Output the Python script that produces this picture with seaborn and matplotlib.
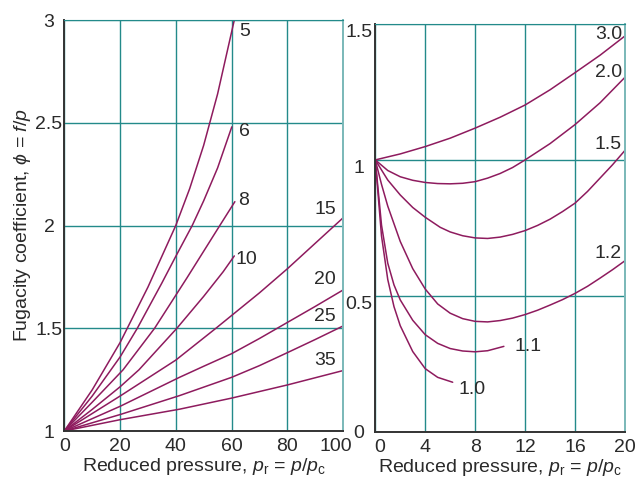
import matplotlib
matplotlib.use('Agg')
import matplotlib.pyplot as plt
import matplotlib.transforms as mtransforms
import seaborn as sns

# ---- left panel: reduced temperatures 5 ... 35, p_r 0-100 ----
pr_5 = [0, 10, 20, 30, 40, 45, 50, 55, 61]
phi_5 = [1.0, 1.2, 1.43, 1.70, 2.0, 2.18, 2.39, 2.64, 3.0]
pr_6 = [0, 10, 20, 26.2, 35, 40, 45.9, 50, 55, 60.1]
phi_6 = [1.0, 1.17, 1.36, 1.5, 1.72, 1.85, 2.0, 2.12, 2.28, 2.48]
pr_8 = [0, 10, 21.1, 32.4, 44, 55.8, 61.2]
phi_8 = [1.0, 1.14, 1.298, 1.5, 1.745, 2.0, 2.116]
pr_10 = [0, 10, 20, 26.8, 40.4, 50, 57, 61]
phi_10 = [1.0, 1.105, 1.215, 1.298, 1.5, 1.655, 1.775, 1.852]
pr_15 = [0, 20, 40, 54.4, 70, 80, 100]
phi_15 = [1.0, 1.17, 1.345, 1.5, 1.672, 1.789, 2.037]
pr_20 = [0, 20, 41.3, 50, 60, 70, 80, 90, 100]
phi_20 = [1.0, 1.12, 1.261, 1.315, 1.376, 1.45, 1.528, 1.606, 1.686]
pr_25 = [0, 20, 41.3, 60, 70, 80, 90, 100]
phi_25 = [1.0, 1.08, 1.172, 1.261, 1.318, 1.381, 1.445, 1.511]
pr_35 = [0, 20, 41.3, 60, 80, 100]
phi_35 = [1.0, 1.055, 1.106, 1.16, 1.224, 1.294]

left_labels = ['5', '6', '8', '10', '15', '20', '25', '35']
left_label_x = [64.7, 64.5, 64.5, 65.2, 93.6, 93.5, 93.5, 93.5]
left_label_y = [2.946, 2.457, 2.12, 1.834, 2.076, 1.739, 1.558, 1.342]

# ---- right panel: reduced temperatures 1.0 ... 3.0, p_r 0-20 ----
pr_30 = [0, 2, 4, 6, 8, 10, 12, 14, 16, 18, 20]
phi_30 = [1.0, 1.022, 1.049, 1.08, 1.117, 1.157, 1.202, 1.258, 1.321, 1.385, 1.456]
pr_20r = [0, 1, 2, 3, 4, 5, 6, 7, 8, 9, 10, 11, 12, 14, 16, 18, 20]
phi_20r = [1.0, 0.961, 0.938, 0.925, 0.917, 0.913, 0.912, 0.914, 0.92, 0.933, 0.95,
           0.972, 1.0, 1.06, 1.13, 1.21, 1.304]
pr_15r = [0, 1, 2, 3, 4, 5.2, 6, 7, 8, 9, 10, 11, 12, 13, 14, 15, 16, 17, 18, 19, 20]
phi_15r = [1.0, 0.926, 0.871, 0.825, 0.789, 0.752, 0.735, 0.721, 0.713, 0.711, 0.716,
           0.726, 0.74, 0.759, 0.782, 0.81, 0.841, 0.884, 0.933, 0.982, 1.035]
pr_12r = [0, 0.5, 1, 2, 3, 4, 5, 6, 7, 8, 9, 10, 11, 12, 13, 14, 15, 16, 17, 18, 19, 20]
phi_12r = [1.0, 0.91, 0.83, 0.70, 0.60, 0.525, 0.47, 0.436, 0.416, 0.406, 0.404, 0.409,
           0.418, 0.431, 0.447, 0.466, 0.486, 0.509, 0.535, 0.565, 0.596, 0.629]
pr_11r = [0, 0.5, 1, 1.5, 2, 3, 4, 5, 6, 7, 8, 9, 10.3]
phi_11r = [1.0, 0.76, 0.62, 0.54, 0.485, 0.41, 0.357, 0.325, 0.306, 0.297, 0.294, 0.298, 0.314]
pr_10r = [0, 0.5, 1, 1.5, 2, 3, 4, 5, 6.2]
phi_10r = [1.0, 0.72, 0.56, 0.46, 0.39, 0.295, 0.232, 0.2, 0.182]

right_labels = ['3.0', '2.0', '1.5', '1.2', '1.1', '1.0']
right_label_x = [18.7, 18.7, 18.62, 18.62, 12.22, 7.74]
right_label_y = [1.46, 1.32, 1.055, 0.657, 0.312, 0.157]

left_xticks = [0, 20, 40, 60, 80, 100]
left_yticks = [1, 1.5, 2, 2.5, 3]
left_yticklabels = ['1', '1.5', '2', '2.5', '3']
right_xticks = [0, 4, 8, 12, 16, 20]
right_yticks = [0, 0.5, 1, 1.5]
right_yticklabels = ['0', '0.5', '1', '1.5']

sns.set_style('white')
plt.rcParams['font.family'] = ['Liberation Sans', 'DejaVu Sans']
plt.rcParams['mathtext.fontset'] = 'custom'
plt.rcParams['mathtext.rm'] = 'Liberation Sans'
plt.rcParams['mathtext.it'] = 'Liberation Sans:italic'

curve_color = '#8e1b5e'
grid_color = '#238a8a'
edge_color = '#7ab8b8'
text_color = '#2a2a2a'
fs = 14

fig = plt.figure(figsize=(6.38, 4.79), dpi=100)
ax1 = fig.add_axes([0.1008, 0.1002, 0.4368, 0.8580])
ax2 = fig.add_axes([0.5882, 0.0987, 0.3914, 0.8512])

left_curves = [(pr_5, phi_5), (pr_6, phi_6), (pr_8, phi_8), (pr_10, phi_10),
               (pr_15, phi_15), (pr_20, phi_20), (pr_25, phi_25), (pr_35, phi_35)]
right_curves = [(pr_30, phi_30), (pr_20r, phi_20r), (pr_15r, phi_15r),
                (pr_12r, phi_12r), (pr_11r, phi_11r), (pr_10r, phi_10r)]

for xs, ys in left_curves:
    sns.lineplot(x=xs, y=ys, ax=ax1, color=curve_color, lw=1.1)
for xs, ys in right_curves:
    sns.lineplot(x=xs, y=ys, ax=ax2, color=curve_color, lw=1.1)

for s, x, y in zip(left_labels, left_label_x, left_label_y):
    ax1.text(x, y, s, ha='center', va='center', fontsize=fs, color=text_color)
for s, x, y in zip(right_labels, right_label_x, right_label_y):
    ax2.text(x, y, s, ha='center', va='center', fontsize=fs, color=text_color)

xlabel = 'Reduced pressure, $p_\\mathrm{r}$ = $p$/$p_\\mathrm{c}$'

for ax in (ax1, ax2):
    ax.grid(True, color=grid_color, lw=1)
    ax.set_axisbelow(True)
    ax.spines['left'].set_color('#333333')
    ax.spines['bottom'].set_color('#333333')
    ax.spines['left'].set_linewidth(1.4)
    ax.spines['bottom'].set_linewidth(1.4)
    ax.spines['top'].set_color(grid_color)
    ax.spines['right'].set_color(edge_color)
    ax.spines['right'].set_linewidth(1.4)
    ax.tick_params(length=0, labelsize=fs, colors=text_color)
    ax.tick_params(axis='x', pad=5)
    ax.set_xlabel(xlabel, fontsize=fs, color=text_color, labelpad=1)

ax1.set_xlim(0, 100)
ax1.set_ylim(1, 3)
ax1.set_xticks(left_xticks)
ax1.set_yticks(left_yticks, labels=left_yticklabels, ha='center')
ax1.tick_params(axis='y', pad=11)
ax1.set_ylabel('Fugacity coefficient, $\\phi$ = $f$/$p$', fontsize=fs,
               color=text_color, labelpad=2)

ax2.set_xlim(0, 20)
ax2.set_ylim(0, 1.5)
ax2.set_xticks(right_xticks)
ax2.set_yticks(right_yticks, labels=right_yticklabels, ha='center')
ax2.tick_params(axis='y', pad=12)
for lbl in ax2.get_yticklabels():
    if lbl.get_text() != '0':
        lbl.set_va('top')

# nudge the crowded labels at the junction of the two panels
shift_left = mtransforms.ScaledTranslation(-7 / 100, 0, fig.dpi_scale_trans)
shift_right = mtransforms.ScaledTranslation(4 / 100, 0, fig.dpi_scale_trans)
lbl = ax1.get_xticklabels()[-1]
lbl.set_transform(lbl.get_transform() + shift_left)
lbl = ax2.get_xticklabels()[0]
lbl.set_transform(lbl.get_transform() + shift_right)

fig.savefig('out.png', dpi=100)
